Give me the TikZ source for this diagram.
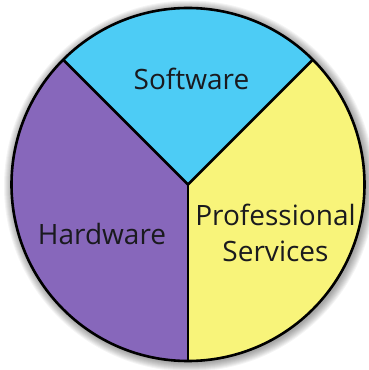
\documentclass[tikz,border=0pt]{standalone}
\usepackage{fontspec}
\setmainfont{Open Sans}
\usetikzlibrary{calc}
\definecolor{swcyan}{HTML}{4DCCF5}
\definecolor{hwpurple}{HTML}{8767BB}
\definecolor{psyellow}{HTML}{F8F47A}
\definecolor{txtdark}{HTML}{1A1A1E}
\begin{document}
\begin{tikzpicture}[x=1pt,y=1pt,
  slicetext/.style={anchor=base,inner sep=0pt,text=txtdark,font=\fontsize{28}{32}\selectfont},
  edge/.style={line width=2.6pt,line join=round}]
\useasboundingbox (0,0) rectangle (369,370);
\fill[white] (0,0) rectangle (369,370);
\coordinate (c) at (188,185.5);
\def\R{176.5}
% soft shadow
\foreach \k in {9,8,...,1}{
  \fill[black,opacity=0.045] ([shift={(1.5,-1.5)}]c) circle ({\R+\k});
}
\fill[swcyan] (c) -- ++(45:\R) arc[start angle=45,end angle=135,radius=\R] -- cycle;
\fill[hwpurple] (c) -- ++(135:\R) arc[start angle=135,end angle=270,radius=\R] -- cycle;
\fill[psyellow] (c) -- ++(270:\R) arc[start angle=270,end angle=405,radius=\R] -- cycle;
\coordinate (p1) at ($(c)+(45:\R)$);
\coordinate (p2) at ($(c)+(135:\R)$);
\coordinate (p3) at ($(c)+(270:\R)$);
\draw[edge] (c) circle (\R);
\draw[edge] (p1) -- (c) -- (p2);
\draw[edge] (c) -- (p3);
\node[slicetext] (sw) at (191.5,280) {Software};
\node[slicetext] (hw) at (102,125) {Hardware};
\node[slicetext] (ps1) at (275.5,144) {Professional};
\node[slicetext] (ps2) at (275.5,108) {Services};
\end{tikzpicture}
\end{document}
